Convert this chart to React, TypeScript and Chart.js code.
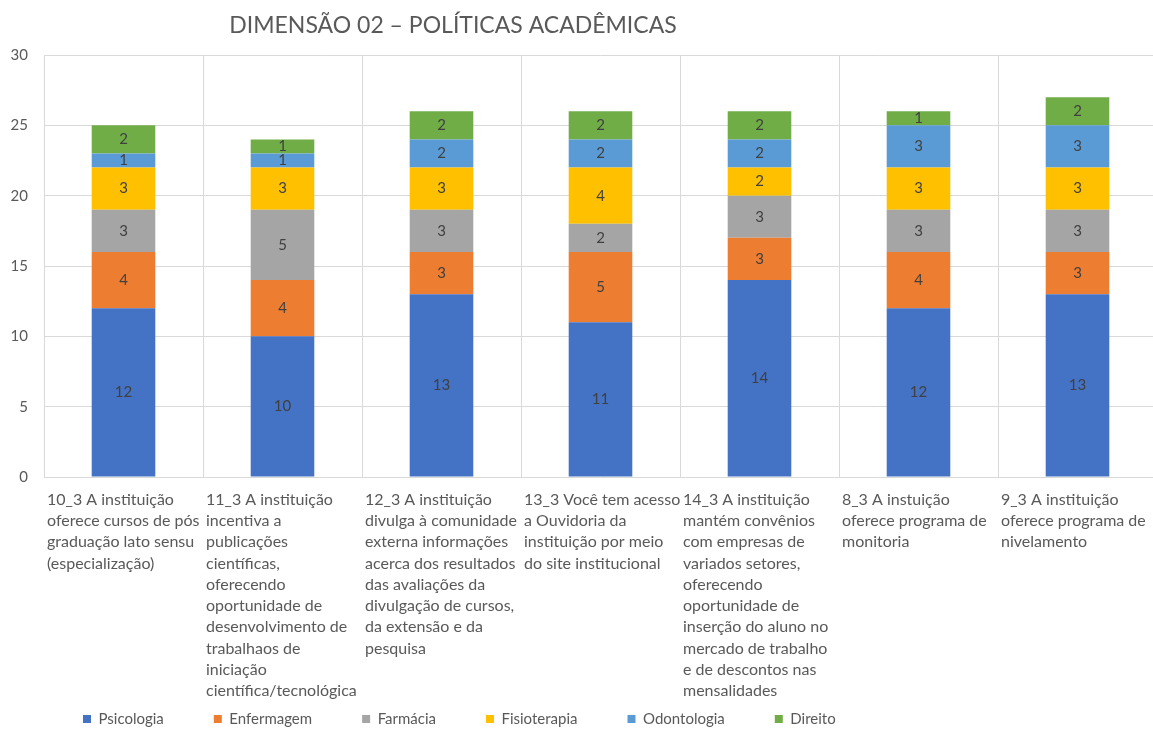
import React, { useEffect, useRef } from "react";
import { Chart, registerables } from "chart.js";

Chart.register(...registerables);

const TITLE = "DIMENSÃO 02 – POLÍTICAS ACADÊMICAS";

const categories: string[][] = [
  ["10_3 A instituição", "oferece cursos de pós", "graduação lato sensu", "(especialização)"],
  ["11_3 A instituição", "incentiva a", "publicações", "científicas,", "oferecendo", "oportunidade de", "desenvolvimento de", "trabalhaos de", "iniciação", "científica/tecnológica"],
  ["12_3 A instituição", "divulga à comunidade", "externa informações", "acerca dos resultados", "das avaliações da", "divulgação de cursos,", "da extensão e da", "pesquisa"],
  ["13_3 Você tem acesso", "a Ouvidoria da", "instituição por meio", "do site institucional"],
  ["14_3 A instituição", "mantém convênios", "com empresas de", "variados setores,", "oferecendo", "oportunidade de", "inserção do aluno no", "mercado de trabalho", "e de descontos nas", "mensalidades"],
  ["8_3 A instuição", "oferece programa de", "monitoria"],
  ["9_3 A instituição", "oferece programa de", "nivelamento"],
];

const psicologia = [12, 10, 13, 11, 14, 12, 13];
const enfermagem = [4, 4, 3, 5, 3, 4, 3];
const farmacia = [3, 5, 3, 2, 3, 3, 3];
const fisioterapia = [3, 3, 3, 4, 2, 3, 3];
const odontologia = [1, 1, 2, 2, 2, 3, 3];
const direito = [2, 1, 2, 2, 2, 1, 2];

const yTicks = [0, 5, 10, 15, 20, 25, 30];

const FONT = "Lato, 'Open Sans', sans-serif";
const TEXT = "#595959";

const dataLabels = {
  id: "dataLabels",
  afterDatasetsDraw(chart: any) {
    const ctx = chart.ctx;
    ctx.save();
    ctx.font = `15px ${FONT}`;
    ctx.fillStyle = "#404040";
    ctx.textAlign = "center";
    ctx.textBaseline = "middle";
    chart.data.datasets.forEach((ds: any, i: number) => {
      const meta = chart.getDatasetMeta(i);
      meta.data.forEach((el: any, j: number) => {
        const { x, y, base } = el.getProps(["x", "y", "base"], true);
        ctx.fillText(String(ds.data[j]), x, (y + base) / 2);
      });
    });
    ctx.restore();
  },
};

const placeBlocks = {
  id: "placeBlocks",
  afterLayout(chart: any) {
    const t = chart.titleBlock;
    if (t) {
      const cx = 453;
      t.left = cx - 300;
      t.right = cx + 300;
      t.width = 600;
    }
    const lg = chart.legend;
    if (lg) {
      const pad = lg.options.labels.padding;
      const w = lg.right - lg.left;
      lg.left = 83 - pad;
      lg.right = lg.left + w;
      const h = lg.bottom - lg.top;
      lg.top = 719 - 7.5 - pad;
      lg.bottom = lg.top + h;
    }
    const xs = chart.scales.x;
    if (xs) {
      xs.bottom = chart.height;
    }
  },
};

export default function App() {
  const ref = useRef<HTMLCanvasElement | null>(null);
  useEffect(() => {
    if (!ref.current) return;
    const mk = (label: string, data: number[], color: string) => ({
      label,
      data,
      backgroundColor: color,
      borderWidth: 0,
      barPercentage: 0.4,
      categoryPercentage: 1,
    });
    const chart = new Chart(ref.current, {
      type: "bar",
      data: {
        labels: categories,
        datasets: [
          mk("Psicologia", psicologia, "#4472C4"),
          mk("Enfermagem", enfermagem, "#ED7D31"),
          mk("Farmácia", farmacia, "#A5A5A5"),
          mk("Fisioterapia", fisioterapia, "#FFC000"),
          mk("Odontologia", odontologia, "#5B9BD5"),
          mk("Direito", direito, "#70AD47"),
        ],
      },
      options: {
        animation: false,
        responsive: true,
        maintainAspectRatio: false,
        layout: { padding: { left: 0, right: 3, top: 0, bottom: 0 } },
        plugins: {
          title: {
            display: true,
            text: TITLE,
            color: TEXT,
            font: { family: FONT, size: 23, weight: "normal" },
            padding: { top: 12, bottom: 15.4 },
          },
          legend: {
            display: true,
            position: "bottom",
            align: "start",
            labels: {
              boxWidth: 8,
              boxHeight: 8,
              padding: 50,
              color: TEXT,
              font: { family: FONT, size: 15 },
            },
          },
          tooltip: { enabled: false },
        },
        scales: {
          x: {
            stacked: true,
            grid: { color: "#D9D9D9", drawTicks: false, offset: true },
            border: { display: false },
            ticks: {
              align: "start",
              labelOffset: -76.5,
              autoSkip: false,
              maxRotation: 0,
              minRotation: 0,
              padding: 12,
              color: TEXT,
              font: { family: FONT, size: 16, lineHeight: 1.33 },
            },
            afterFit(scale: any) {
              scale.paddingLeft = 0;
              scale.paddingRight = 0;
              scale.height = 178;
            },
          },
          y: {
            stacked: true,
            min: 0,
            max: 30,
            afterBuildTicks(scale: any) {
              scale.ticks = yTicks.map((v) => ({ value: v }));
            },
            grid: { color: "#D9D9D9", drawTicks: false },
            border: { display: false },
            ticks: {
              padding: 16,
              color: TEXT,
              font: { family: FONT, size: 15 },
            },
            afterFit(scale: any) {
              scale.width = 44;
            },
          },
        },
      },
      plugins: [dataLabels, placeBlocks],
    });
    return () => chart.destroy();
  }, []);

  return (
    <div style={{ position: "fixed", left: 0, top: 0, width: 1153, height: 730, overflow: "hidden", background: "#fff" }}>
      <div style={{ position: "relative", width: 1160, height: 730 }}>
        <canvas ref={ref} />
      </div>
    </div>
  );
}
